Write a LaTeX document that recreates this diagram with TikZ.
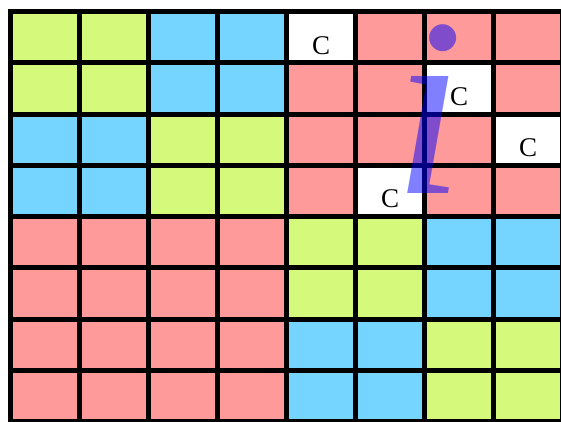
\documentclass[tikz,border=0pt]{standalone}
\usepackage{fontspec}
\setmainfont{Liberation Serif}
\definecolor{cellg}{RGB}{213,249,122}
\definecolor{cellb}{RGB}{117,213,255}
\definecolor{cellr}{RGB}{255,154,154}
\definecolor{cellw}{RGB}{255,255,255}
\begin{document}
\begin{tikzpicture}[x=1pt,y=-1pt,
    gridline/.style={line width=5pt,line cap=rect},
    cmark/.style={inner sep=0pt,font=\fontsize{27}{27}\selectfont},
    bigi/.style={inner sep=0pt,text=blue,text opacity=0.5,font=\fontsize{255}{255}\selectfont\itshape}]
    \useasboundingbox (0,0) rectangle (561,421);
    \fill[white] (0,0) rectangle (561,421);
    \foreach \cells [count=\r from 0] in {{g,g,b,b,w,r,r,r},{g,g,b,b,r,r,w,r},{b,b,g,g,r,r,r,w},{b,b,g,g,r,w,r,r},{r,r,r,r,g,g,b,b},{r,r,r,r,g,g,b,b},{r,r,r,r,b,b,g,g},{r,r,r,r,b,b,g,g}}
        \foreach \c [count=\k from 0] in \cells
            \fill[cell\c] (10.5+69*\k,11.5+51.25*\r) rectangle ++(69,51.25);
    \foreach \k in {0,...,8}
        \draw[gridline] (10.5+69*\k,11.5) -- ++(0,410);
    \foreach \r in {0,...,8}
        \draw[gridline] (10.5,11.5+51.25*\r) -- ++(552,0);
    \node[cmark] (c1) at (321,46) {C};
    \node[cmark] (c2) at (459,97) {C};
    \node[cmark] (c3) at (528,148) {C};
    \node[cmark] (c4) at (390,199) {C};
    \node[bigi,anchor=base west] (letteri) at (393,193) {i};
\end{tikzpicture}
\end{document}
